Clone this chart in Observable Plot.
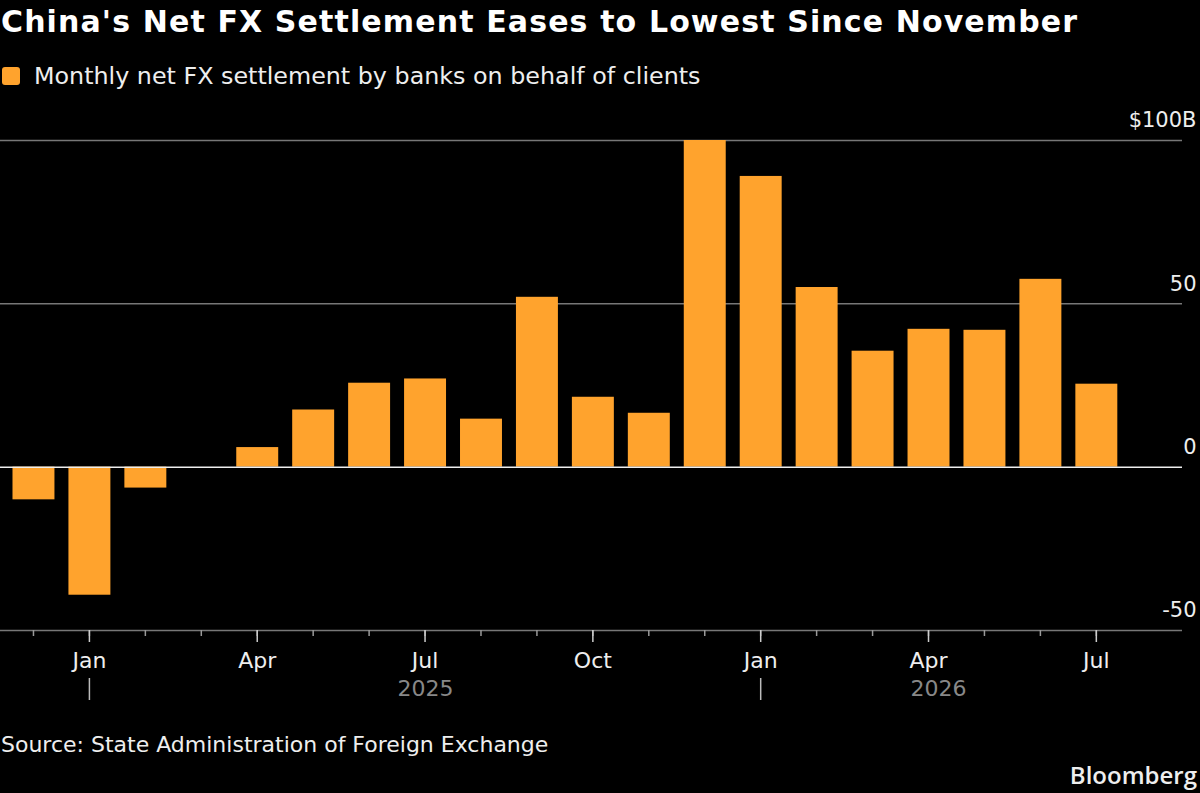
<!DOCTYPE html>
<html><head><meta charset="utf-8">
<script src="https://cdn.jsdelivr.net/npm/d3@7"></script>
<script src="https://cdn.jsdelivr.net/npm/@observablehq/plot@0.6"></script>
<style>
html,body{margin:0;padding:0;background:#000;width:1200px;height:793px;overflow:hidden;position:relative;font-family:"DejaVu Sans",sans-serif}
#title{position:absolute;left:1px;top:1px;color:#fff;font:bold 30px "DejaVu Sans";white-space:nowrap;line-height:42px;letter-spacing:1.12px}
#legend{position:absolute;left:2px;top:60px;color:#eee;font:23.8px "DejaVu Sans";white-space:nowrap;line-height:32px;display:flex;align-items:center}
#legend i{display:inline-block;width:18px;height:18px;border-radius:3px;background:#ffa32d;margin-right:14px}
#chart{position:absolute;left:0;top:100px}
#source{position:absolute;left:1px;top:729px;color:#eee;font:22px "DejaVu Sans";white-space:nowrap;line-height:32px}
#brand{position:absolute;right:3px;top:760px;color:#eee;font:600 24px "Open Sans";line-height:30px}
svg text{font-family:"DejaVu Sans"}
</style></head><body>
<div id="title">China's Net FX Settlement Eases to Lowest Since November</div>
<div id="legend"><i></i><span>Monthly net FX settlement by banks on behalf of clients</span></div>
<div id="chart"></div>
<div id="source">Source: State Administration of Foreign Exchange</div>
<div id="brand">Bloomberg</div>
<script>
const months=["2024-12","2025-01","2025-02","2025-03","2025-04","2025-05","2025-06","2025-07","2025-08","2025-09","2025-10","2025-11","2025-12","2026-01","2026-02","2026-03","2026-04","2026-05","2026-06","2026-07"];
const values=[-10,-39.2,-6.4,0,6,17.5,25.7,27,14.7,52,21.4,16.5,100,89,55,35.5,42.2,41.9,57.5,25.4];
const yTicks=[-50,0,50,100];
const gridTicks=[-50,50,100];
const labelled={"2025-01":"Jan","2025-04":"Apr","2025-07":"Jul","2025-10":"Oct","2026-01":"Jan","2026-04":"Apr","2026-07":"Jul"};
const yearStarts=["2025-01","2026-01"];
const rows=months.map((m,i)=>({m,v:values[i]}));
const yearText=(m,label,dx)=>Plot.text([label],{x:()=>m,text:d=>d,frameAnchor:"bottom",dx,dy:65,fill:"#888",fontSize:22});
const plot=Plot.plot({
  width:1200,height:605,marginTop:40,marginBottom:75,marginLeft:0,marginRight:18,
  style:{background:"#000",color:"#eee",fontSize:"22px"},
  x:{type:"band",domain:months,range:[5.5,1124.3],paddingInner:0.25,paddingOuter:0.125,round:false},
  y:{domain:[-50,100]},
  marks:[
    Plot.ruleY(gridTicks,{stroke:"#777",strokeWidth:1.5}),
    Plot.barY(rows,{x:"m",y:"v",fill:"#ffa32d"}),
    Plot.ruleY([0],{stroke:"#eee",strokeWidth:1.5}),
    Plot.axisY(yTicks,{anchor:"right",tickSize:0,tickPadding:14,textAnchor:"end",dy:-20,fill:"#eee",fontSize:21,tickFormat:d=>d===100?"$100B":String(d),label:null}),
    Plot.axisX(months,{anchor:"bottom",tickSize:6,dx:-0.5,stroke:"#999",strokeWidth:1.5,text:null,label:null}),
    Plot.axisX(Object.keys(labelled),{anchor:"bottom",tickSize:12,tickPadding:10,dx:-0.5,stroke:"#ccc",strokeWidth:1.5,fill:"#eee",tickFormat:d=>labelled[d],label:null}),
    Plot.axisX(yearStarts,{anchor:"bottom",tickSize:22,dy:48,dx:-0.5,stroke:"#bbb",strokeWidth:1.5,text:null,label:null}),
    yearText("2025-07","2025",0),
    yearText("2026-04","2026",9.5)
  ]
});
document.getElementById("chart").append(plot);
</script>
</body></html>
